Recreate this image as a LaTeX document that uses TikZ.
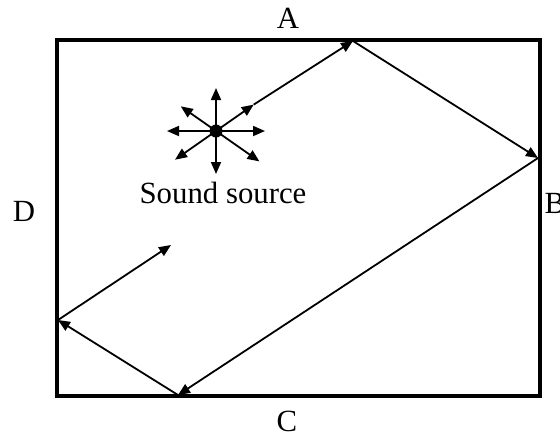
\documentclass[tikz,border=0pt]{standalone}
\usepackage{fontspec}
\setmainfont{Liberation Serif}
\usetikzlibrary{arrows.meta,positioning}
\tikzset{
  wall/.style={draw=black,line width=1.6pt},
  ray/.style={-{Triangle[length=6pt,width=5pt]},line width=0.9pt},
  wavearrow/.style={-{Triangle[length=6pt,width=5pt]},line width=0.9pt},
  sidelabel/.style={font=\fontsize{15.4}{18}\selectfont,inner sep=0pt},
  source/.style={circle,fill=black,inner sep=0pt,minimum size=6.5pt},
}

\begin{document}
\begin{tikzpicture}[x=0.5pt,y=-0.5pt]
  \useasboundingbox (0,0) rectangle (560,436);
  % room
  \draw[wall] (57,40) rectangle (540,396);
  \node[sidelabel] (labA) at (288,18) {A};
  \node[sidelabel] (labB) at (555,203) {B};
  \node[sidelabel] (labC) at (287,421) {C};
  \node[sidelabel] (labD) at (24,211) {D};
  % source (angles are mirrored since y points down)
  \node[source] (src) at (216,131) {};
  \node[sidelabel] (srclabel) at (223,193) {Sound source};
  \foreach \ang/\len in {0/49,180/49,90/43,270/43,325/46,215/43,145/50,35/53}
    \draw[wavearrow] (src.center) -- ++(\ang:\len) coordinate (w\ang);
  % reflection points
  \coordinate (hitA) at (353,41);
  \coordinate (hitB) at (538,158);
  \coordinate (hitC) at (178,395);
  \coordinate (hitD) at (58,320);
  \coordinate (rayend) at (171,245);
  \draw[ray] (w325) -- (hitA);
  \draw[ray] (hitA) -- (hitB);
  \draw[ray] (hitB) -- (hitC);
  \draw[ray] (hitC) -- (hitD);
  \draw[ray] (hitD) -- (rayend);
\end{tikzpicture}
\end{document}
